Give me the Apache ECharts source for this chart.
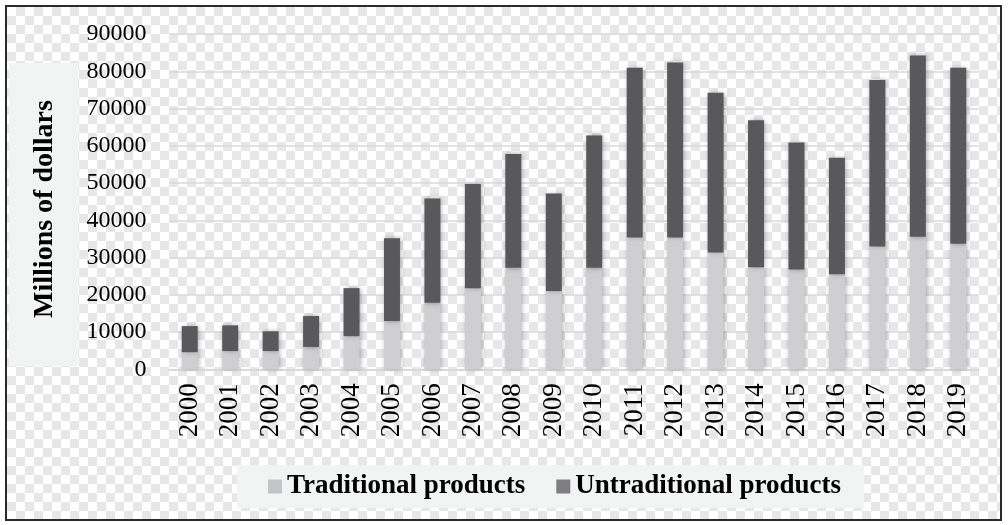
<!DOCTYPE html>
<html>
<head>
<meta charset="utf-8">
<script src="https://cdn.jsdelivr.net/npm/echarts@6/dist/echarts.min.js"></script>
<style>
  html, body { margin: 0; padding: 0; background: #ffffff; }
  #wrap { position: relative; width: 1008px; height: 525px; overflow: hidden; }
  #frame {
    position: absolute; left: 5px; top: 5px; width: 993px; height: 512px;
    border: 2px solid #2a2a2a;
    background-color: #ffffff;
    background-image:
      linear-gradient(45deg, #e7e7e7 25%, transparent 25%, transparent 75%, #e7e7e7 75%),
      linear-gradient(45deg, #e7e7e7 25%, transparent 25%, transparent 75%, #e7e7e7 75%);
    background-size: 18px 18px;
    background-position: 0 0, 9px 9px;
  }
  #chart { position: absolute; left: 0; top: 0; width: 1008px; height: 525px; }
</style>
</head>
<body>
<div id="wrap">
  <div id="frame"></div>
  <div id="chart"></div>
</div>
<script>
const years = ['2000','2001','2002','2003','2004','2005','2006','2007','2008','2009',
               '2010','2011','2012','2013','2014','2015','2016','2017','2018','2019'];
const traditional = [4600, 4900, 4900, 6000, 8900, 13000, 17900, 21800, 27300, 21000,
                     27300, 35400, 35400, 31400, 27400, 26800, 25500, 33000, 35600, 33700];
const untraditional = [7000, 6900, 5300, 8300, 12900, 22200, 28000, 28000, 30500, 26200,
                       35500, 45600, 47000, 42900, 39500, 34100, 31300, 44700, 48700, 47300];
const yTicks = { min: 0, max: 90000, interval: 10000 };
const seriesNames = ['Traditional products', 'Untraditional products'];
const yAxisTitle = 'Millions of dollars';

const serif = '"Liberation Serif", "Times New Roman", serif';
const chart = echarts.init(document.getElementById('chart'), null, { renderer: 'canvas' });
const shadow = { shadowBlur: 5, shadowColor: 'rgba(0,0,0,0.35)', shadowOffsetX: 1, shadowOffsetY: 0 };

chart.setOption({
  backgroundColor: 'transparent',
  animation: false,
  grid: { left: 169.5, right: 29.5, top: 34.2, bottom: 155.7, containLabel: false },
  graphic: [
    { type: 'rect', left: 9, top: 63, shape: { width: 69, height: 303 }, style: { fill: '#f2f3f3' }, z: 0 },
    { type: 'text', x: 45, y: 209, rotation: Math.PI / 2,
      style: { text: yAxisTitle, font: 'bold 28px ' + serif, fill: '#000', align: 'center', verticalAlign: 'middle' }, z: 1 }
  ],
  legend: {
    left: 237, top: 465,
    backgroundColor: '#f2f3f3',
    padding: [8, 23, 8, 31],
    itemWidth: 14, itemHeight: 14, itemGap: 31,
    icon: 'rect',
    textStyle: { fontFamily: serif, fontWeight: 'bold', fontSize: 27, color: '#000' },
    data: [
      { name: seriesNames[0], itemStyle: { color: '#c5c5c7' } },
      { name: seriesNames[1], itemStyle: { color: '#7f7f81' } }
    ]
  },
  xAxis: {
    type: 'category',
    data: years,
    axisLine: { lineStyle: { color: '#d9d9d9', width: 2 } },
    axisTick: { show: false },
    axisLabel: { rotate: 90, margin: 14, fontFamily: serif, fontSize: 27, color: '#000' }
  },
  yAxis: {
    type: 'value',
    min: yTicks.min, max: yTicks.max, interval: yTicks.interval,
    axisLine: { show: false },
    axisTick: { show: false },
    splitLine: { lineStyle: { color: '#d9d9d9', width: 1.5 } },
    axisLabel: { margin: 23, fontFamily: serif, fontSize: 24, color: '#000',
                 formatter: function (v) { return String(v); } }
  },
  series: [
    { name: seriesNames[0], type: 'bar', stack: 'total', barWidth: 16, data: traditional,
      itemStyle: Object.assign({ color: '#cfcfd1' }, shadow) },
    { name: seriesNames[1], type: 'bar', stack: 'total', barWidth: 16, data: untraditional,
      itemStyle: Object.assign({ color: '#59595b' }, shadow) }
  ]
});
</script>
</body>
</html>
